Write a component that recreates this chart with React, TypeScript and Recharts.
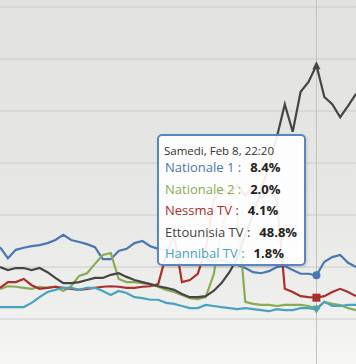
import React from "react";
import {
  LineChart,
  Line,
  XAxis,
  YAxis,
  CartesianGrid,
  ReferenceLine,
} from "recharts";

// one point every 5 minutes, index 40 = 22:20 (hovered point)
const times = [
  "19:00", "19:05", "19:10", "19:15", "19:20", "19:25", "19:30", "19:35", "19:40", "19:45",
  "19:50", "19:55", "20:00", "20:05", "20:10", "20:15", "20:20", "20:25", "20:30", "20:35",
  "20:40", "20:45", "20:50", "20:55", "21:00", "21:05", "21:10", "21:15", "21:20", "21:25",
  "21:30", "21:35", "21:40", "21:45", "21:50", "21:55", "22:00", "22:05", "22:10", "22:15",
  "22:20", "22:25", "22:30", "22:35", "22:40", "22:45",
];

const nationale1 = [
  13.8, 11.7, 13.3, 13.7, 14.0, 14.2, 14.6, 15.2, 16.2, 15.2,
  14.8, 14.4, 13.8, 11.5, 11.5, 13.1, 13.5, 14.6, 15.0, 14.0,
  13.5, 13.3, 12.9, 12.3, 12.7, 11.9, 11.7, 11.0, 11.3, 10.8,
  10.4, 9.8, 9.0, 8.8, 9.2, 10.0, 10.2, 9.4, 8.7, 8.7,
  8.4, 11.0, 11.9, 12.3, 10.8, 10.0,
];

const nationale2 = [
  5.8, 6.3, 6.2, 6.0, 5.8, 6.2, 6.0, 6.2, 5.4, 6.3,
  8.3, 8.8, 10.6, 12.3, 12.7, 7.7, 7.1, 7.1, 6.9, 6.7,
  6.2, 5.6, 5.2, 4.6, 4.0, 3.8, 4.2, 8.5, 17.0, 22.0,
  21.0, 3.3, 2.9, 2.7, 2.7, 2.5, 2.7, 2.7, 2.7, 2.5,
  2.0, 3.3, 2.9, 2.7, 2.1, 1.7,
];

const nessma = [
  6.0, 7.1, 7.1, 7.7, 6.5, 5.8, 6.0, 6.2, 6.0, 5.8,
  5.6, 5.8, 6.0, 6.2, 6.3, 6.2, 6.0, 6.0, 6.2, 6.3,
  6.7, 12.3, 16.2, 7.1, 7.5, 8.7, 13.3, 22.9, 25.2, 23.8,
  25.8, 23.7, 25.6, 23.3, 24.8, 22.9, 5.8, 5.2, 4.4, 4.2,
  4.1, 4.4, 5.2, 5.8, 5.2, 4.4,
];

const ettounisia = [
  10.0, 9.4, 9.8, 9.8, 9.4, 9.8, 9.0, 7.9, 6.9, 6.9,
  7.1, 7.5, 7.9, 7.9, 8.5, 8.8, 8.1, 7.5, 7.1, 6.7,
  6.3, 6.0, 5.6, 4.8, 4.2, 4.2, 4.4, 5.4, 6.9, 9.0,
  11.7, 16.2, 20.0, 24.8, 29.6, 35.0, 41.3, 36.0, 43.7, 45.6,
  48.8, 42.7, 41.3, 38.8, 41.0, 43.3,
];

const hannibal = [
  2.3, 2.3, 2.3, 2.3, 3.1, 4.2, 5.2, 5.6, 6.0, 6.0,
  5.6, 6.0, 6.0, 5.4, 4.6, 5.4, 5.0, 4.2, 4.0, 3.7,
  3.7, 3.1, 2.9, 2.5, 2.1, 2.1, 2.7, 2.5, 2.3, 2.1,
  1.9, 2.1, 1.9, 1.7, 1.5, 1.9, 1.7, 1.7, 2.1, 2.1,
  1.8, 3.3, 2.5, 2.5, 2.7, 2.7,
];

const gridValues = [0, 10, 20, 30, 40, 50, 60];
const hoverIndex = 40;

const series = [
  { key: "n1", name: "Nationale 1", color: "#4a77b4", marker: "circle", values: nationale1 },
  { key: "n2", name: "Nationale 2", color: "#8aab55", marker: "diamond", values: nationale2 },
  { key: "nessma", name: "Nessma TV", color: "#a8302c", marker: "square", values: nessma },
  { key: "ettounisia", name: "Ettounisia TV", color: "#454545", marker: "triangle", values: ettounisia },
  { key: "hannibal", name: "Hannibal TV", color: "#49a3bf", marker: "triangle-down", values: hannibal },
];

const data = times.map((t, i) => {
  const row: any = { i, time: t };
  series.forEach((s) => (row[s.key] = s.values[i]));
  return row;
});

const W = 356;
const H = 364;

// Marker drawn only on the hovered point
const makeDot = (color: string, marker: string) => (props: any) => {
  const { cx, cy, index } = props;
  if (index !== hoverIndex || cx == null || cy == null) return <g key={`d-${index}`} />;
  const r = 4;
  if (marker === "circle")
    return <circle key={`d-${index}`} cx={cx} cy={cy} r={r} fill={color} />;
  if (marker === "square")
    return <rect key={`d-${index}`} x={cx - r} y={cy - r} width={2 * r} height={2 * r} fill={color} />;
  if (marker === "diamond")
    return <path key={`d-${index}`} d={`M${cx} ${cy - r} L${cx + r} ${cy} L${cx} ${cy + r} L${cx - r} ${cy} Z`} fill={color} />;
  if (marker === "triangle")
    return <path key={`d-${index}`} d={`M${cx} ${cy - r} L${cx + r} ${cy + r} L${cx - r} ${cy + r} Z`} fill={color} />;
  return <path key={`d-${index}`} d={`M${cx - r} ${cy - r} L${cx + r} ${cy - r} L${cx} ${cy + r} Z`} fill={color} />;
};

// Static hover box, filled from the hovered row
const HoverBox = () => {
  const row = data[hoverIndex];
  return (
    <div
      style={{
        position: "absolute",
        left: 157,
        top: 134,
        width: 149,
        height: 132,
        boxSizing: "border-box",
        border: "2px solid #5a86bd",
        borderRadius: 5,
        background: "rgba(255,255,255,0.91)",
        fontFamily: "'Open Sans', sans-serif",
        boxShadow: "1px 1px 3px rgba(0,0,0,0.15)",
        pointerEvents: "none",
      }}
    >
      <div
        style={{
          position: "absolute",
          left: 5,
          top: 7,
          fontSize: 11.5,
          color: "#333",
          lineHeight: "16px",
          whiteSpace: "nowrap",
        }}
      >
        Samedi, Feb 8, {row.time}
      </div>
      {series.map((s, k) => (
        <div
          key={s.key}
          style={{
            position: "absolute",
            left: 6,
            top: 21 + k * 21.6,
            fontSize: 13,
            lineHeight: "20px",
            whiteSpace: "nowrap",
          }}
        >
          <span style={{ color: s.color }}>{s.name} :</span>
          <span style={{ color: "#222", fontWeight: 700, marginLeft: 9 }}>
            {row[s.key].toFixed(1)}%
          </span>
        </div>
      ))}
    </div>
  );
};

export default function App() {
  return (
    <div
      style={{
        position: "absolute",
        left: 0,
        top: 0,
        width: W,
        height: H,
        background: "linear-gradient(#e2e2e0 0%, #e6e6e4 50%, #eeeeec 82%, #f6f6f4 100%)",
      }}
    >
      <LineChart
        width={W}
        height={H}
        data={data}
        margin={{ top: 0, right: 0, bottom: 0, left: 0 }}
      >
        <CartesianGrid
          vertical={false}
          stroke="#cbcbc9"
          strokeWidth={1.2}
          horizontalValues={gridValues}
        />
        <XAxis dataKey="i" type="number" domain={[0, 45]} hide allowDataOverflow />
        <YAxis type="number" domain={[-8.654, 61.346]} ticks={gridValues} hide allowDataOverflow />
        <ReferenceLine x={hoverIndex} stroke="#c2c2c0" strokeWidth={1} />
        {series.map((s) => (
          <Line
            key={s.key}
            type="linear"
            dataKey={s.key}
            name={s.name}
            stroke={s.color}
            strokeWidth={2.2}
            dot={makeDot(s.color, s.marker)}
            activeDot={false}
            isAnimationActive={false}
          />
        ))}
      </LineChart>
      <HoverBox />
    </div>
  );
}
